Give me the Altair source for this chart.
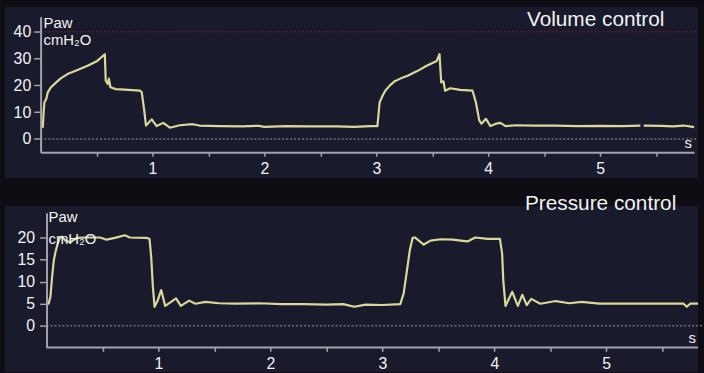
import altair as alt
import pandas as pd

# ---- Volume control: airway pressure trace (time in s, pressure in cmH2O)
vc_t = [0.00, 0.02, 0.027, 0.034, 0.05, 0.064, 0.093, 0.137, 0.18, 0.24, 0.33, 0.42,
        0.506, 0.574, 0.582, 0.60, 0.61, 0.624, 0.668, 0.75, 0.82, 0.889, 0.904, 0.925,
        0.942, 0.993, 1.037, 1.096, 1.155, 1.243, 1.36, 1.42, 1.6, 1.8, 1.95, 2.0, 2.2,
        2.4, 2.65, 2.8, 2.95, 3.01, 3.03, 3.043, 3.057, 3.08, 3.12, 3.16, 3.22, 3.28,
        3.37, 3.45, 3.54, 3.565, 3.58, 3.60, 3.615, 3.66, 3.75, 3.86, 3.89, 3.92, 3.94,
        3.98, 4.02, 4.07, 4.11, 4.155, 4.25, 4.4, 4.6, 4.8, 5.0, 5.2, 5.36,
        5.39, 5.55, 5.65, 5.75, 5.84]
vc_p = [5.0, 4.5, 10.0, 13.7, 14.8, 17.4, 19.3, 21.0, 22.6, 24.2, 25.7, 27.3,
        29.1, 31.6, 21.8, 20.5, 22.5, 19.3, 18.6, 18.4, 18.2, 18.0, 17.4, 11.0,
        5.0, 7.3, 4.8, 6.0, 4.2, 5.1, 5.5, 5.0, 4.8, 4.7, 4.9, 4.5, 4.8,
        4.7, 4.7, 4.5, 4.8, 4.8, 13.7, 14.9, 16.2, 18.0, 19.9, 21.4, 22.6, 23.6,
        25.4, 27.3, 29.1, 31.6, 21.1, 21.5, 18.0, 18.9, 18.3, 18.0, 13.7, 6.9, 5.7,
        7.5, 4.8, 5.7, 6.0, 4.8, 5.1, 5.0, 5.0, 4.8, 4.9, 4.8, 5.0,
        5.0, 4.9, 4.7, 5.0, 4.4]
vc_gap_after = 5.36  # the trace is interrupted briefly after this time

# ---- Pressure control: airway pressure trace
pc_t = [0.00, 0.02, 0.035, 0.05, 0.065, 0.08, 0.10, 0.118, 0.139, 0.168, 0.212, 0.27,
        0.36, 0.478, 0.537, 0.61, 0.70, 0.743, 0.891, 0.92, 0.935, 0.95, 0.965, 0.994,
        1.024, 1.06, 1.10, 1.157, 1.20, 1.274, 1.33, 1.42, 1.54, 1.7, 1.9, 2.1, 2.3,
        2.5, 2.65, 2.75, 2.85, 3.0, 3.16, 3.19, 3.22, 3.245, 3.27, 3.29, 3.37, 3.43,
        3.52, 3.63, 3.70, 3.76, 3.83, 3.94, 4.05, 4.07, 4.08, 4.10, 4.16, 4.21, 4.25,
        4.29, 4.33, 4.41, 4.55, 4.67, 4.78, 4.94, 5.3, 5.69, 5.72, 5.75, 5.82]
pc_p = [4.7, 5.1, 6.6, 11.1, 14.8, 16.7, 18.6, 19.9, 20.2, 19.3, 18.9, 19.9,
        20.0, 20.0, 19.5, 19.9, 20.5, 20.0, 19.9, 19.7, 15.6, 8.8, 4.3, 5.8,
        8.1, 4.5, 5.2, 6.2, 4.5, 5.7, 5.0, 5.4, 5.1, 5.0, 5.1, 4.9, 4.9,
        4.8, 4.9, 4.3, 4.8, 4.7, 4.9, 7.3, 12.6, 17.1, 19.9, 20.0, 18.4, 19.3,
        19.6, 19.5, 19.3, 19.1, 20.0, 19.7, 19.7, 16.3, 10.3, 4.5, 7.7, 4.5, 7.0,
        4.7, 6.1, 5.0, 5.6, 5.1, 5.4, 5.0, 5.0, 5.0, 4.3, 5.0, 5.0]

# ---- axes
x_ticks = [0.5, 1, 1.5, 2, 2.5, 3, 3.5, 4, 4.5, 5, 5.5]
vc_y_ticks = [0, 10, 20, 30, 40]
pc_y_ticks = [0, 5, 10, 15, 20]
vc_x_domain = [0, 5.84]
vc_y_domain = [-5.0, 45.6]
pc_x_domain = [-0.053, 5.82]
pc_y_domain = [-4.9, 25.6]
vc_limit = 40  # alarm limit line

titles = ["Volume control", "Pressure control"]
unit_name = "Paw"
unit_text = "cmH₂O"
time_unit = "s"

FONT = "Liberation Sans"
NAVY = "#191b2d"
BLACK = "#0d0d13"
TRACE = "#dcd89c"
AXIS = "#a3a3ad"
LABEL = "#f2f2f2"

vc_df = pd.DataFrame({"t": vc_t, "p": vc_p})
vc_df["seg"] = (vc_df["t"] > vc_gap_after).astype(int)
pc_df = pd.DataFrame({"t": pc_t, "p": pc_p, "seg": 0})
one = pd.DataFrame({"k": [0]})

xlabel_expr = "datum.value % 1 === 0 ? format(datum.value, 'd') : ''"


def label(txt, x, y, size, align="left"):
    return alt.Chart(pd.DataFrame({"txt": [txt]})).mark_text(
        align=align, baseline="middle", font=FONT, fontSize=size, color=LABEL
    ).encode(x=alt.value(x), y=alt.value(y), text="txt:N")


def panel(df, xdom, ydom, yticks, w, h, title, bg, y_offset, ypad, x_domain_line,
          title_xy, unit_x, unit_y, limit=None):
    x_axis = alt.Axis(values=x_ticks, labelExpr=xlabel_expr, title=None, grid=False,
                      domain=x_domain_line, tickSize=4, labelPadding=4, zindex=2,
                      labelOverlap=False)
    y_axis = alt.Axis(values=yticks, title=None, grid=False, tickSize=7,
                      labelPadding=ypad, offset=y_offset, zindex=2, labelOverlap=False)
    xs = alt.Scale(domain=xdom, nice=False, zero=False)
    ys = alt.Scale(domain=ydom, nice=False, zero=False)

    def xd(v):
        return alt.datum(v, scale=xs, axis=x_axis)

    def yd(v):
        return alt.datum(v, scale=ys, axis=y_axis)

    back = alt.Chart(one).mark_rect(color=NAVY).encode(
        x=alt.value(bg[0]), x2=alt.value(bg[1]), y=alt.value(bg[2]), y2=alt.value(bg[3]))

    zero = alt.Chart(one).mark_rule(color="#6d6d7c", strokeDash=[2, 2], strokeWidth=1.5).encode(
        y=yd(0), x=xd(0), x2=alt.value(w + 4))

    trace = alt.Chart(df).mark_line(color=TRACE, strokeWidth=2.2, strokeJoin="round").encode(
        x=alt.X("t:Q", scale=xs, axis=x_axis),
        y=alt.Y("p:Q", scale=ys, axis=y_axis),
        detail="seg:N",
        order="t:Q",
    )

    layers = [back, zero]
    if limit is not None:
        layers.append(alt.Chart(one).mark_rule(color="#5c1a26", strokeDash=[2, 2], strokeWidth=1.5).encode(
            y=yd(limit), x=xd(0), x2=alt.value(w + 4)))
    if not x_domain_line:
        layers.append(alt.Chart(one).mark_rule(color=AXIS, strokeWidth=2).encode(
            y=yd(ydom[0]), x=xd(0), x2=alt.value(w)))
    layers += [
        trace,
        label(title, title_xy[0], title_xy[1], 21, align="right"),
        label(unit_name, unit_x, unit_y[0], 15),
        label(unit_text, unit_x, unit_y[1], 15),
        label(time_unit, w - 6, h - 9, 15, align="center"),
    ]
    return alt.layer(*layers).properties(width=w, height=h)


top = panel(vc_df, vc_x_domain, vc_y_domain, vc_y_ticks, 660, 137, titles[0],
            bg=[-36, 664, -10, 163], y_offset=0, ypad=3, x_domain_line=True,
            title_xy=[630, 3], unit_x=3, unit_y=[6, 24], limit=vc_limit)
bottom = panel(pc_df, pc_x_domain, pc_y_domain, pc_y_ticks, 664, 136, titles[1],
               bg=[-36, 664, -7, 161], y_offset=-6, ypad=5, x_domain_line=False,
               title_xy=[642, -9], unit_x=8, unit_y=[4, 27])

chart = alt.vconcat(top, bottom, spacing=61, bounds="flush").properties(
    background=BLACK,
    padding={"left": 4, "top": 4, "right": 0, "bottom": 0},
).configure_view(stroke="transparent").configure_axis(
    domainColor=AXIS, domainWidth=2, tickColor=AXIS, tickWidth=1.5,
    labelColor=LABEL, labelFont=FONT, labelFontSize=16,
)

chart.save("out.html", embed_options={"renderer": "svg", "actions": False})
